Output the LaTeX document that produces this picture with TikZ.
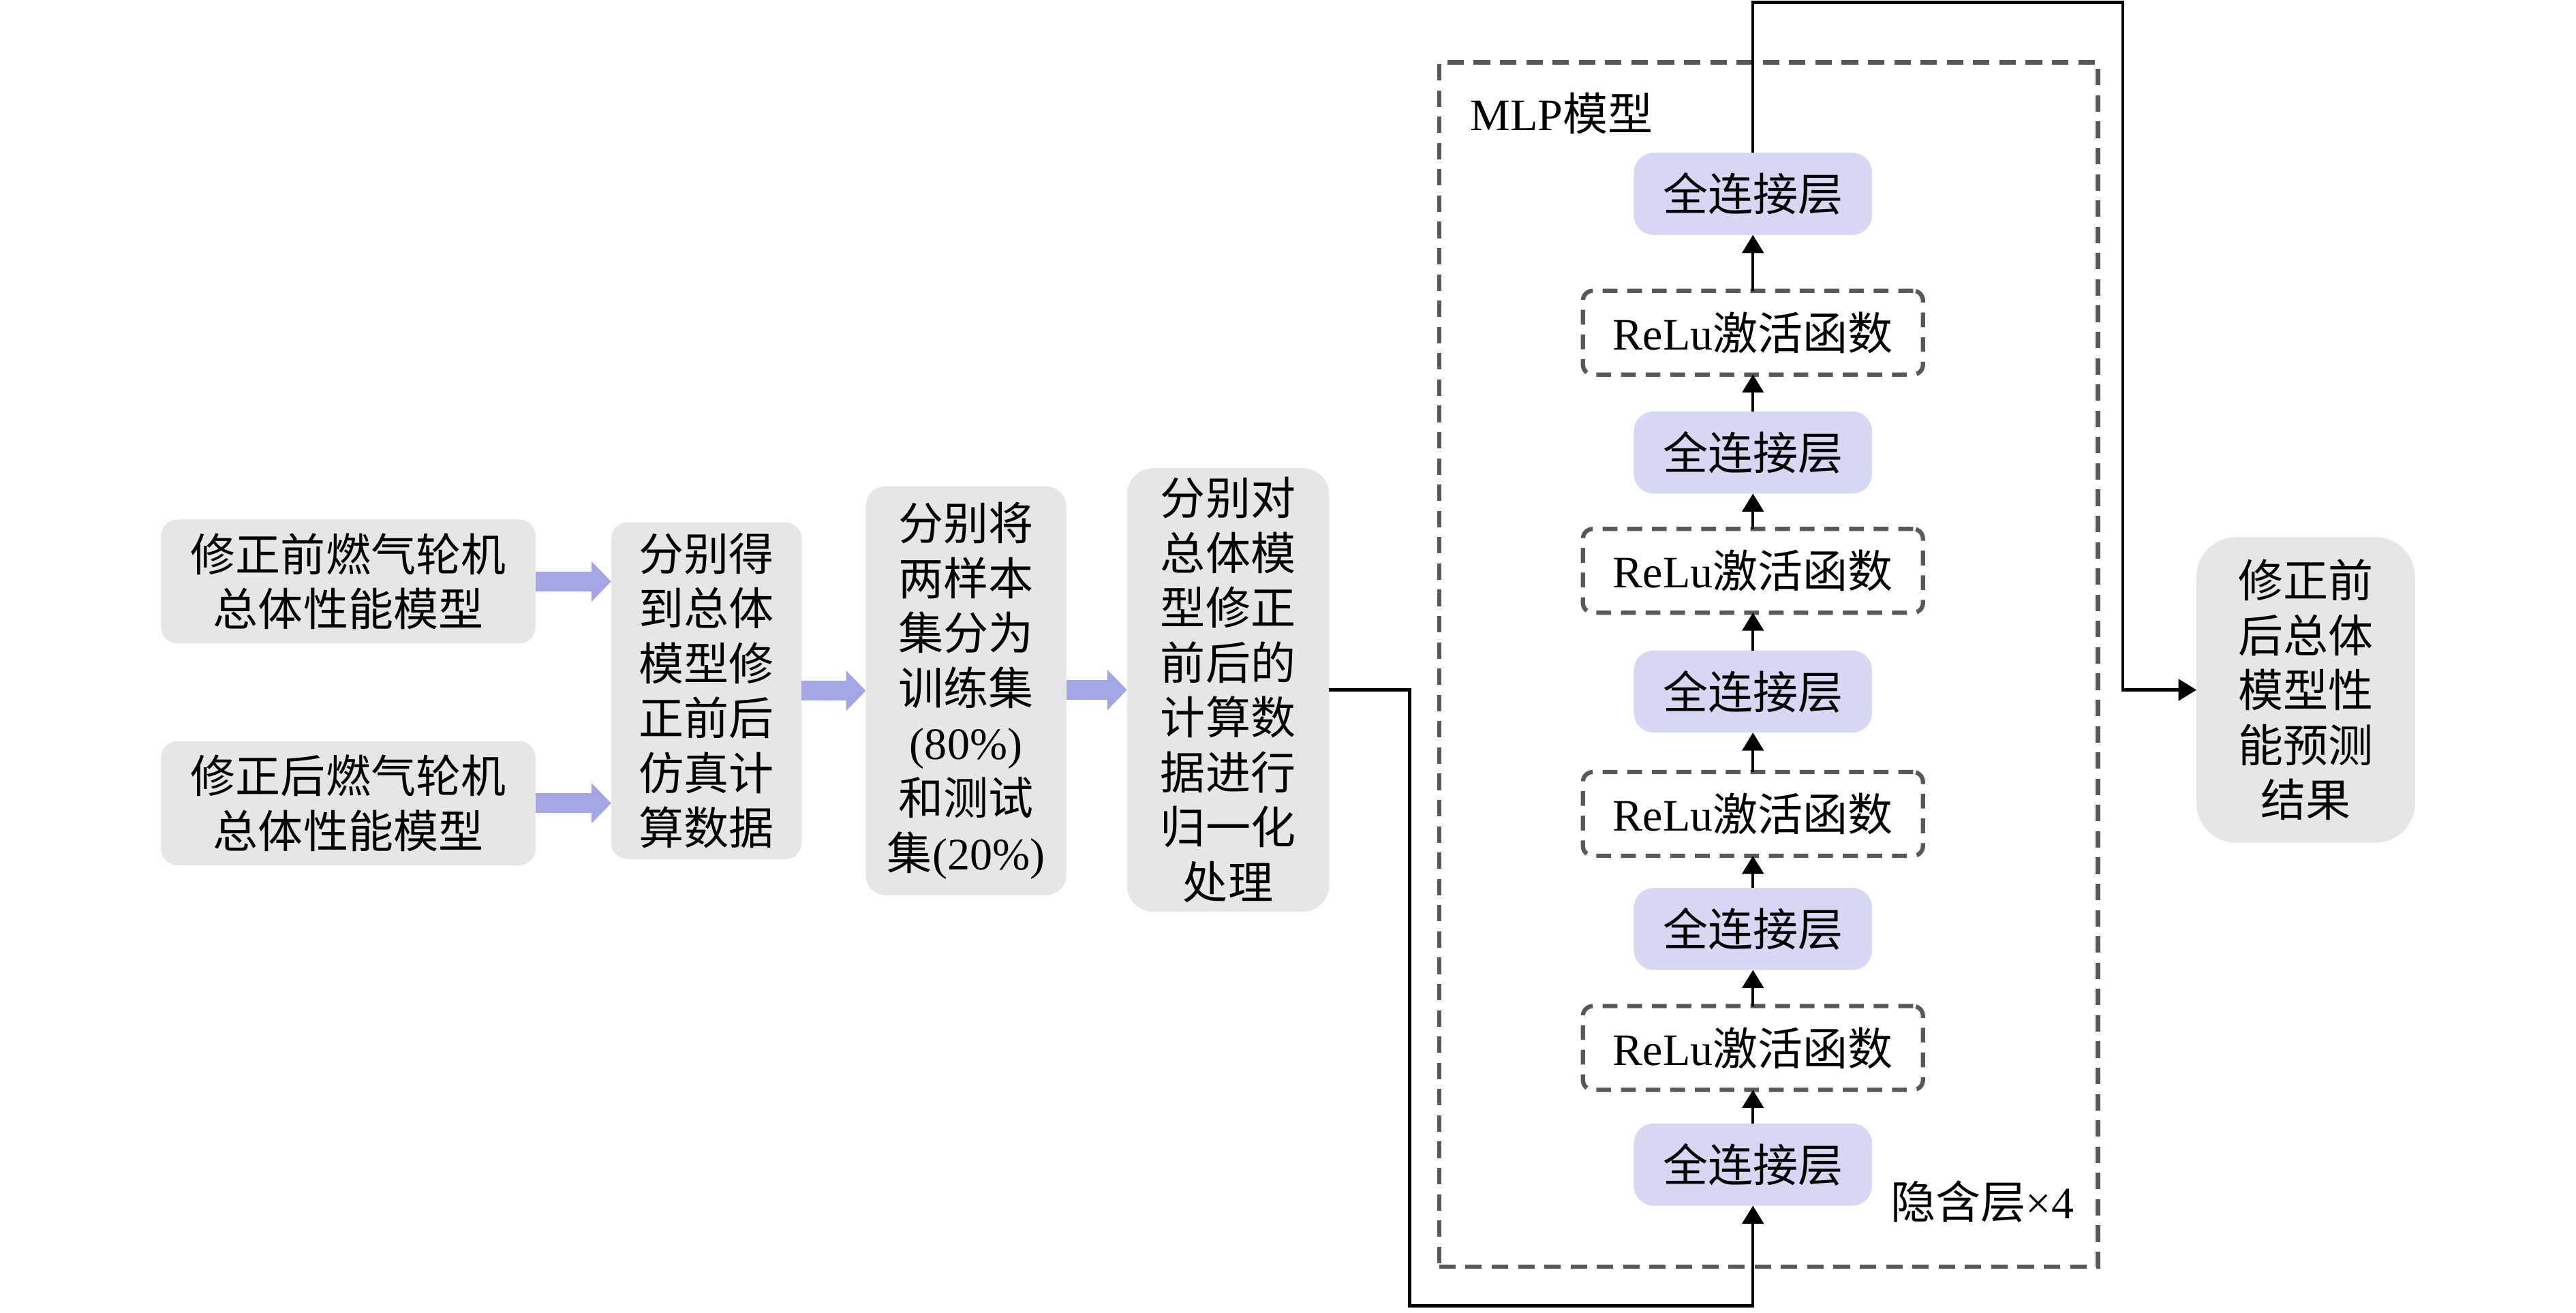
\documentclass[tikz,border=0pt]{standalone}
\usepackage{fontspec}
\setmainfont{Liberation Serif}
\newfontfamily\cjk{Noto Sans CJK SC}
\usetikzlibrary{arrows.meta}
\definecolor{boxgray}{RGB}{230,230,230}
\definecolor{fcfill}{RGB}{214,215,243}
\definecolor{fatblue}{RGB}{164,165,228}
\definecolor{dashgray}{RGB}{88,88,88}
\newcommand\lat[1]{{\rmfamily #1}}
\begin{document}
\begin{tikzpicture}[x=0.5pt,y=-0.5pt,
  every node/.style={inner sep=0pt, outer sep=0pt, align=center,
    font=\cjk\fontsize{13.7}{16.7}\selectfont},
  graybox/.style={fill=boxgray, rounded corners=#1},
  graybox/.default=5pt,
  fcbox/.style={fill=fcfill, rounded corners=6pt, minimum width=72.5pt, minimum height=25pt},
  relubox/.style={draw=dashgray, line width=1.3pt, dash pattern=on 4.5pt off 3pt,
    rounded corners=3pt, fill=white, minimum width=103.5pt, minimum height=25.5pt},
  mlpframe/.style={draw=dashgray, line width=1.3pt, dash pattern=on 5pt off 3pt},
  fatarrow/.style={draw=fatblue, line width=6pt, -{Triangle[length=6pt,width=12pt]}},
  conn/.style={draw=black, line width=0.9pt, -{Triangle[length=5.5pt,width=6.5pt]}},
  plainline/.style={draw=black, line width=0.9pt}]
\useasboundingbox (0,0) rectangle (1568,799);

% input boxes
\node[graybox, minimum width=114pt, minimum height=37.75pt] (b1) at (212,354)
  {修正前燃气轮机\\总体性能模型};
\node[graybox, minimum width=114pt, minimum height=37.75pt] (b2) at (212,489)
  {修正后燃气轮机\\总体性能模型};
\node[graybox, minimum width=58pt, minimum height=102.5pt] (b3) at (430,420.5)
  {分别得\\到总体\\模型修\\正前后\\仿真计\\算数据};
\node[graybox=6pt, minimum width=61pt, minimum height=124.5pt] (b4) at (588,420.5)
  {分别将\\两样本\\集分为\\训练集\\\lat{(80\%)}\\和测试\\集\lat{(20\%)}};
\node[graybox=8pt, minimum width=61.5pt, minimum height=135pt] (b5) at (747.5,420)
  {分别对\\总体模\\型修正\\前后的\\计算数\\据进行\\归一化\\处理};
\node[graybox=12pt, minimum width=66.5pt, minimum height=93pt] (res) at (1403.5,420)
  {修正前\\后总体\\模型性\\能预测\\结果};

% MLP frame
\node[mlpframe, minimum width=200.5pt, minimum height=366.5pt] (mlp) at (1076.5,404.5) {};
\node[anchor=west] (mlplabel) at (895,69) {\lat{MLP}模型};
\node[anchor=west] (hidden) at (1151,731.5) {隐含层\lat{×4}};

% MLP layers
\node[fcbox] (fc1) at (1067,118) {全连接层};
\node[relubox] (r1) at (1067,202.5) {\lat{ReLu}激活函数};
\node[fcbox] (fc2) at (1067,275.5) {全连接层};
\node[relubox] (r2) at (1067,347.5) {\lat{ReLu}激活函数};
\node[fcbox] (fc3) at (1067,421) {全连接层};
\node[relubox] (r3) at (1067,495.5) {\lat{ReLu}激活函数};
\node[fcbox] (fc4) at (1067,565.5) {全连接层};
\node[relubox] (r4) at (1067,638) {\lat{ReLu}激活函数};
\node[fcbox] (fc5) at (1067,709) {全连接层};

% fat arrows
\draw[fatarrow] (b1.east) -- (b1.east -| b3.west);
\draw[fatarrow] (b2.east) -- (b2.east -| b3.west);
\draw[fatarrow] (b3.east) -- (b3.east -| b4.west);
\draw[fatarrow] (b4.east |- b5.east) -- (b5.west);

% connectors
\coordinate (c1) at (858,795);
\coordinate (c2) at (1292,1.5);
\draw[conn] (b5.east) -| (c1) -| (fc5.south);
\draw[conn] (fc5.north) -- (r4.south);
\draw[conn] (r4.north) -- (fc4.south);
\draw[conn] (fc4.north) -- (r3.south);
\draw[conn] (r3.north) -- (fc3.south);
\draw[conn] (fc3.north) -- (r2.south);
\draw[conn] (r2.north) -- (fc2.south);
\draw[conn] (fc2.north) -- (r1.south);
\draw[conn] (r1.north) -- (fc1.south);
\draw[conn] (fc1.north) |- (c2) |- (res.west);
\end{tikzpicture}
\end{document}
